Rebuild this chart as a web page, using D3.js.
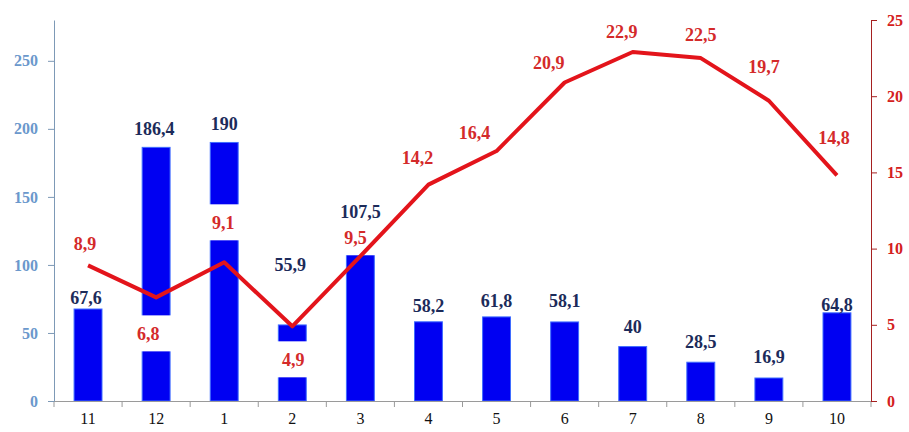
<!DOCTYPE html>
<html>
<head>
<meta charset="utf-8">
<script src="https://cdn.jsdelivr.net/npm/d3@7"></script>
<style>
  body { margin: 0; background: #fff; }
  svg { display: block; }
</style>
</head>
<body>
<svg id="chart" width="909" height="432"></svg>
<script>
// months (hydrological year, Nov -> Oct)
const months = ['11', '12', '1', '2', '3', '4', '5', '6', '7', '8', '9', '10'];
// precipitation, mm (bars, left axis)
const rain = [67.6, 186.4, 190, 55.9, 107.5, 58.2, 61.8, 58.1, 40, 28.5, 16.9, 64.8];
// mean temperature, °C (line, right axis)
const temp = [8.9, 6.8, 9.1, 4.9, 9.5, 14.2, 16.4, 20.9, 22.9, 22.5, 19.7, 14.8];
const rainTicks = [0, 50, 100, 150, 200, 250];
const tempTicks = [0, 5, 10, 15, 20, 25];

// label nudges in px (layout only), [dx, dy] from the mark
const rainLabelNudge = [[-2, -11], [-2, -19], [0, -19], [-2, -60], [0, -43], [0, -16],
  [0, -16], [0, -21], [0, -20], [0, -21], [0, -21], [0, -8]];
const tempLabelNudge = [[-3, -22], [-8, 36], [-1, -40], [1, 33], [-5, -19], [-11, -27],
  [-22, -18], [-16, -20], [-11, -20], [0, -23], [-5, -34], [-3, -38]];

const FONT = '"Liberation Serif", "Times New Roman", "DejaVu Serif", serif';
const fmt = (v) => String(v).replace('.', ',');

const svg = d3.select('#chart');
const mLeft = 54, mRight = 871, mTop = 20, mBottom = 401;

const x = d3.scaleBand().domain(months).range([mLeft, mRight])
  .paddingInner(0.59).paddingOuter(0.295);
const yRain = d3.scaleLinear().domain([0, 280]).range([mBottom, mTop]);
const yTemp = d3.scaleLinear().domain([0, 25]).range([mBottom, mTop]);
const cx = (m) => x(m) + x.bandwidth() / 2;

// bars
svg.append('g').selectAll('rect')
  .data(rain)
  .join('rect')
  .attr('x', (d, i) => x(months[i]))
  .attr('y', (d) => yRain(d))
  .attr('width', x.bandwidth())
  .attr('height', (d) => mBottom - yRain(d))
  .attr('fill', '#0000f2')
  .attr('stroke', '#3f6cff')
  .attr('stroke-width', 1);

// temperature labels sit on white boxes that cut the bars
const tLab = svg.append('g').selectAll('g')
  .data(temp)
  .join('g')
  .attr('transform', (d, i) => `translate(${cx(months[i]) + tempLabelNudge[i][0]},${yTemp(d) + tempLabelNudge[i][1]})`);
tLab.append('rect')
  .attr('x', -26).attr('y', -18).attr('width', 52).attr('height', 36)
  .attr('fill', '#fff');

// temperature line
const line = d3.line()
  .x((d, i) => cx(months[i]))
  .y((d) => yTemp(d));
svg.append('path')
  .datum(temp)
  .attr('d', line)
  .attr('fill', 'none')
  .attr('stroke', '#e3141b')
  .attr('stroke-width', 4)
  .attr('stroke-linejoin', 'round');

tLab.append('text')
  .attr('text-anchor', 'middle')
  .attr('dy', '0.35em')
  .attr('font-family', FONT)
  .attr('font-size', 18)
  .attr('font-weight', 'bold')
  .attr('fill', '#d42a2a')
  .text((d) => fmt(d));

// rain labels
svg.append('g').selectAll('text')
  .data(rain)
  .join('text')
  .attr('x', (d, i) => cx(months[i]) + rainLabelNudge[i][0])
  .attr('y', (d, i) => yRain(d) + rainLabelNudge[i][1])
  .attr('text-anchor', 'middle')
  .attr('dy', '0.35em')
  .attr('font-family', FONT)
  .attr('font-size', 18)
  .attr('font-weight', 'bold')
  .attr('fill', '#1c2b5a')
  .text((d) => fmt(d));

// axes
const gx = svg.append('g')
  .attr('transform', `translate(0,${mBottom})`)
  .call(d3.axisBottom(x).tickSize(0).tickPadding(12));
gx.select('.domain').attr('stroke', '#9a9a9a').attr('d', `M${mLeft},0.5H${mRight}`);
gx.selectAll('text').attr('font-family', FONT).attr('font-size', 16).attr('fill', '#111');
// ticks between the categories
gx.selectAll('.sep')
  .data(d3.range(months.length + 1))
  .join('line')
  .attr('class', 'sep')
  .attr('x1', (i) => mLeft + i * x.step()).attr('x2', (i) => mLeft + i * x.step())
  .attr('y1', 0).attr('y2', 6)
  .attr('stroke', '#9a9a9a');

const gl = svg.append('g')
  .attr('transform', `translate(${mLeft},0)`)
  .call(d3.axisLeft(yRain).tickValues(rainTicks).tickSize(6).tickPadding(10).tickSizeOuter(0));
gl.select('.domain').attr('stroke', '#7d99b6');
gl.selectAll('.tick line').attr('stroke', '#7d99b6');
gl.selectAll('text').attr('font-family', FONT).attr('font-size', 16)
  .attr('font-weight', 'bold').attr('fill', '#6b98cc');

const gr = svg.append('g')
  .attr('transform', `translate(${mRight},0)`)
  .call(d3.axisRight(yTemp).tickValues(tempTicks).tickSize(6).tickPadding(10).tickSizeOuter(0));
gr.select('.domain').attr('stroke', '#a52020');
gr.selectAll('.tick line').attr('stroke', '#a52020');
gr.selectAll('text').attr('font-family', FONT).attr('font-size', 16)
  .attr('font-weight', 'bold').attr('fill', '#d42020');
</script>
</body>
</html>
